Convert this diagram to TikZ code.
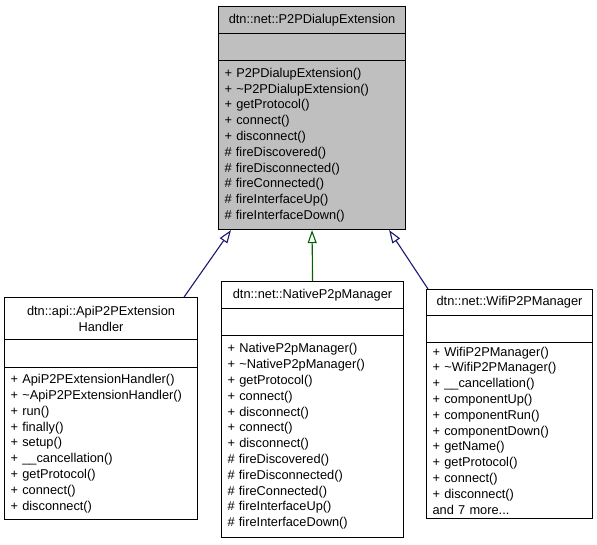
\documentclass[tikz,border=0pt]{standalone}
\usepackage{fontspec}
\setmainfont{Liberation Sans}
\usetikzlibrary{arrows.meta,calc}
\definecolor{grey75}{RGB}{191,191,191}
\definecolor{midnightblue}{RGB}{25,25,112}
\definecolor{darkgreen}{RGB}{0,100,0}

\begin{document}
\begin{tikzpicture}
	[x=1pt, y=-1pt,
	part/.style={draw, line width=1.1pt, anchor=north west, inner xsep=6pt, inner ysep=0pt, font=\fontsize{12.8}{15.8}\selectfont},
	title part/.style={part, align=center},
	member part/.style={part, align=left},
	base/.style={fill=grey75},
	inherit/.style={line width=1.1pt, -{Triangle[open, length=13pt, width=9pt]}}]
	\useasboundingbox (0,0) rectangle (597,544);
	% base class
	\node[title part, base, text width=175pt, minimum height=27pt] (dialT) at (218,6) {dtn::net::P2PDialupExtension};
	\node[part, base, text width=175pt, minimum height=27pt] (dialA) at (218,33) {};
	\node[member part, base, text width=175pt, minimum height=169pt] (dialO) at (218,60)
		{+ P2PDialupExtension()\\+ \textasciitilde P2PDialupExtension()\\+ getProtocol()\\+ connect()\\+ disconnect()\\\# fireDiscovered()\\\# fireDisconnected()\\\# fireConnected()\\\# fireInterfaceUp()\\\# fireInterfaceDown()};
	% derived classes
	\node[title part, text width=181pt, minimum height=42pt] (apiT) at (4,297) {dtn::api::ApiP2PExtension\hspace*{25pt}\\Handler};
	\node[part, text width=181pt, minimum height=28pt] (apiA) at (4,339) {};
	\node[member part, text width=181pt, minimum height=152pt] (apiO) at (4,367)
		{+ ApiP2PExtensionHandler()\\+ \textasciitilde ApiP2PExtensionHandler()\\+ run()\\+ finally()\\+ setup()\\+ \_\_cancellation()\\+ getProtocol()\\+ connect()\\+ disconnect()};
	\node[title part, text width=170pt, minimum height=27pt] (nativeT) at (221,281) {dtn::net::NativeP2pManager};
	\node[part, text width=170pt, minimum height=27pt] (nativeA) at (221,308) {};
	\node[member part, text width=170pt, minimum height=202pt] (nativeO) at (221,335)
		{+ NativeP2pManager()\\+ \textasciitilde NativeP2pManager()\\+ getProtocol()\\+ connect()\\+ disconnect()\\+ connect()\\+ disconnect()\\\# fireDiscovered()\\\# fireDisconnected()\\\# fireConnected()\\\# fireInterfaceUp()\\\# fireInterfaceDown()};
	\node[title part, text width=154pt, minimum height=26pt] (wifiT) at (426,289) {dtn::net::WifiP2PManager};
	\node[part, text width=154pt, minimum height=27pt] (wifiA) at (426,315) {};
	\node[member part, text width=154pt, minimum height=176pt] (wifiO) at (426,342)
		{+ WifiP2PManager()\\+ \textasciitilde WifiP2PManager()\\+ \_\_cancellation()\\+ componentUp()\\+ componentRun()\\+ componentDown()\\+ getName()\\+ getProtocol()\\+ connect()\\+ disconnect()\\and 7 more...};
	% inheritance
	\draw[inherit, midnightblue] ($(apiT.north east)+(-14,0)$) -- ($(dialO.south west)+(13,0)$);
	\draw[inherit, darkgreen] (nativeT.north) -- (dialO.south);
	\draw[inherit, midnightblue] ($(wifiT.north west)+(2,0)$) -- ($(dialO.south east)+(-17,0)$);
\end{tikzpicture}
\end{document}
